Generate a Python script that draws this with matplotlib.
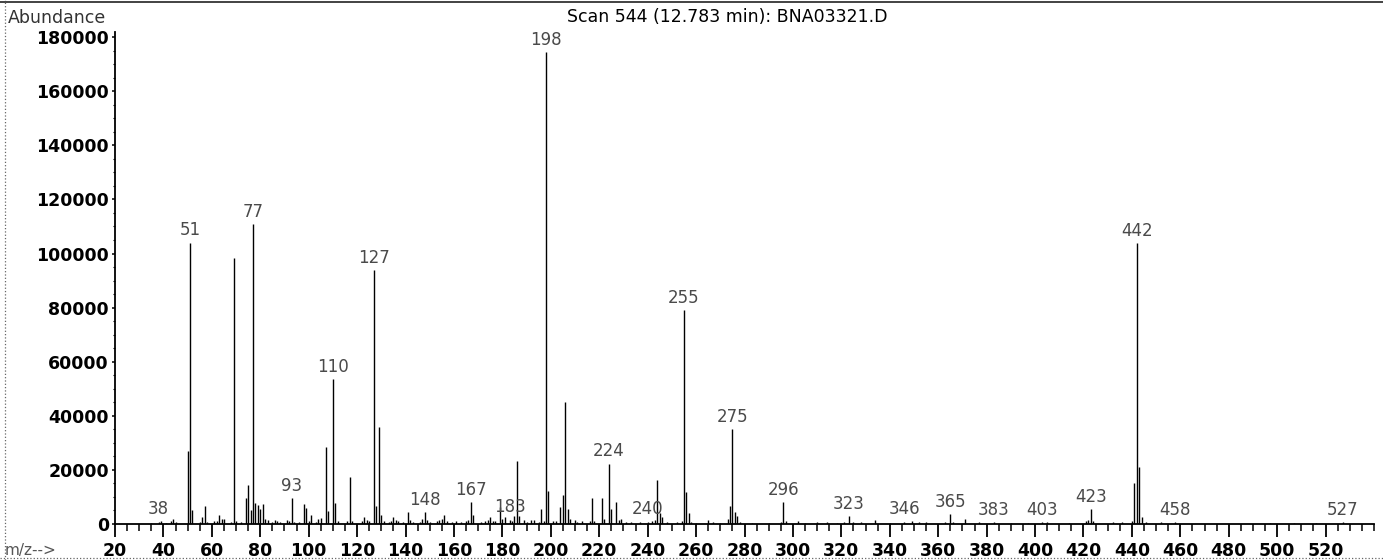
import numpy as np
from matplotlib import pyplot as plt
from matplotlib.ticker import MultipleLocator, FixedLocator
from matplotlib.lines import Line2D

# mass spectrum, scan 544
mz = [35, 38, 39, 41, 43, 44, 45, 50, 51, 52, 55, 56, 57, 58, 61, 62, 63, 64, 65, 68,
      69, 70, 72, 74, 75, 76, 77, 78, 79, 80, 81, 82, 83, 85, 86, 87, 88, 91, 92, 93,
      94, 96, 98, 99, 100, 101, 103, 104, 105, 107, 108, 110, 111, 112, 116, 117, 118, 122, 123, 124,
      125, 127, 128, 129, 130, 131, 133, 134, 135, 136, 137, 139, 141, 142, 143, 146, 147, 148, 149, 150,
      153, 154, 155, 156, 157, 159, 161, 163, 165, 166, 167, 168, 171, 173, 174, 175, 176, 177, 179, 180,
      181, 183, 184, 185, 186, 187, 189, 190, 192, 193, 195, 196, 197, 198, 199, 201, 202, 204, 205, 206,
      207, 208, 210, 211, 213, 216, 217, 218, 221, 222, 224, 225, 227, 228, 229, 231, 233, 237, 240, 242,
      243, 244, 245, 246, 248, 252, 254, 255, 256, 257, 258, 260, 265, 267, 270, 273, 274, 275, 276, 277,
      278, 283, 290, 295, 296, 297, 302, 305, 310, 314, 318, 321, 323, 325, 328, 334, 340, 346, 349, 352,
      355, 363, 365, 366, 371, 377, 383, 390, 397, 403, 405, 414, 421, 422, 423, 424, 432, 436, 440, 441,
      442, 443, 444, 446, 452, 458, 497, 507, 516, 527]
abundance = [400, 800, 1200, 500, 1200, 1900, 600, 27000, 104000, 5000, 600, 2500, 6600, 600, 1000, 1200, 3400, 2000, 2000, 800,
             98500, 1200, 600, 9600, 14400, 5000, 110900, 7900, 7000, 5500, 7300, 2000, 1500, 800, 1500, 1000, 600, 1500, 1000, 9600,
             600, 700, 7300, 5800, 1200, 3500, 800, 2000, 2200, 28500, 4800, 53600, 7900, 1000, 1200, 17200, 1000, 1200, 2500, 1500,
             1000, 93900, 6800, 35700, 3200, 1000, 700, 1200, 2500, 1500, 1000, 700, 4400, 1500, 800, 900, 2000, 4400, 1500, 800,
             1000, 1500, 1800, 3200, 1200, 800, 1000, 800, 1200, 1500, 8000, 3200, 800, 1000, 1500, 2500, 1200, 1000, 6400, 2000,
             2500, 1500, 1000, 2800, 23400, 3000, 1500, 700, 1500, 1500, 800, 5500, 1200, 174500, 12300, 1000, 1000, 6200, 10700, 45000,
             5500, 2000, 1500, 800, 1000, 1200, 9600, 1000, 9600, 2000, 22200, 5600, 8000, 1500, 1800, 700, 600, 600, 900, 1000,
             1500, 16300, 4000, 2500, 800, 600, 1000, 79000, 11700, 3900, 800, 500, 1500, 600, 500, 2000, 6600, 35000, 4500, 2800,
             800, 500, 500, 800, 8000, 1000, 1000, 500, 600, 800, 500, 800, 2800, 800, 600, 1500, 500, 900, 1200, 700,
             600, 800, 3600, 800, 2000, 600, 700, 500, 500, 700, 600, 500, 1200, 1500, 5400, 1000, 600, 700, 1200, 15000,
             103900, 21200, 2500, 700, 600, 700, 500, 400, 500, 700]
labelled = [38, 51, 77, 93, 110, 127, 148, 167, 183, 198, 224, 240, 255, 275, 296, 323, 346, 365, 383, 403,
            423, 442, 458, 527]
y_ticks = list(range(0, 180001, 20000))
x_ticks = list(range(20, 521, 20))

W, H = 1383, 560
fig = plt.figure(figsize=(W / 100, H / 100), dpi=100)
ax = fig.add_axes([115 / W, 36 / H, (1374 - 115) / W, (524 - 32) / H])

ax.vlines(mz, 0, abundance, colors='k', linewidth=1.0)
peaks = dict(zip(mz, abundance))
for m in labelled:
    ax.annotate(str(m), (m, peaks[m]), xytext=(0, 2.5), textcoords='offset points',
                ha='center', va='bottom', fontsize=12, color='#4a4a4a')

ax.set_xlim(20, 540)
ax.set_ylim(0, 181900)
ax.xaxis.set_major_locator(FixedLocator(x_ticks))
ax.xaxis.set_minor_locator(MultipleLocator(5))
ax.yaxis.set_major_locator(FixedLocator(y_ticks))
ax.yaxis.set_minor_locator(MultipleLocator(5000))
ax.set_yticklabels([str(v) for v in y_ticks])
for lab in ax.get_xticklabels() + ax.get_yticklabels():
    lab.set_fontweight('bold')

for s in ['top', 'right']:
    ax.spines[s].set_visible(False)
for s in ['left', 'bottom']:
    ax.spines[s].set_linewidth(1.3)
ax.tick_params(axis='x', which='major', direction='out', length=9, width=1.3, pad=4, labelsize=12.5)
ax.tick_params(axis='x', which='minor', direction='out', length=5, width=1.1)
ax.tick_params(axis='y', which='major', direction='out', length=2.5, width=1.1, pad=2, labelsize=12.5)
ax.tick_params(axis='y', which='minor', direction='out', length=1.5, width=0.8)

fig.text(727 / W, 1 - 17 / H, 'Scan 544 (12.783 min): BNA03321.D', ha='center', va='center', fontsize=12.5)
fig.text(8 / W, 1 - 18 / H, 'Abundance', ha='left', va='center', fontsize=12.5, color='#333333')
fig.text(5 / W, 1 - 550 / H, 'm/z-->', ha='left', va='center', fontsize=11, color='#555555')

# page frame of the scanned printout
fig.add_artist(Line2D([0, 1], [1 - 1.5 / H, 1 - 1.5 / H], color='#222222', linewidth=1.2))
fig.add_artist(Line2D([5 / W, 5 / W], [0, 1], color='#666666', linewidth=0.9, linestyle=':'))
fig.add_artist(Line2D([0, 1], [2 / H, 2 / H], color='#666666', linewidth=0.9, linestyle=':'))

fig.savefig('out.png', dpi=100)
